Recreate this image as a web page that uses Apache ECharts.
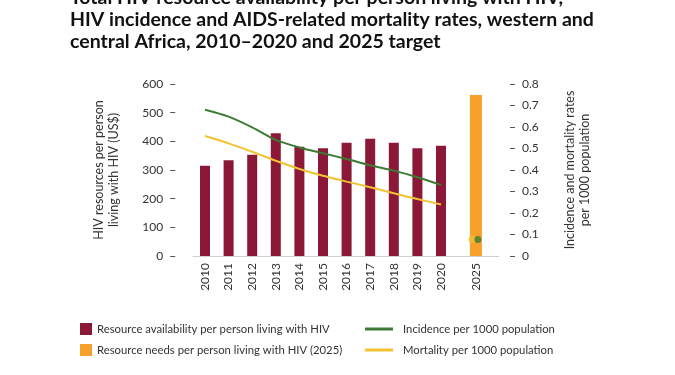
<!DOCTYPE html>
<html>
<head>
<meta charset="utf-8">
<script src="https://cdn.jsdelivr.net/npm/echarts@6/dist/echarts.min.js"></script>
<style>
  html, body { margin: 0; padding: 0; background: #fff; }
  #charts { width: 675px; height: 375px; }
</style>
</head>
<body>
<div id="charts"></div>
<script>
// years 2010-2020
var years = ['2010', '2011', '2012', '2013', '2014', '2015', '2016', '2017', '2018', '2019', '2020'];
// resource availability per person living with HIV (US$)
var resourceAvail = [315, 334, 353, 428, 381, 376, 395, 409, 395, 376, 385];
// incidence / mortality per 1000 population
var incidence = [0.68, 0.648, 0.598, 0.54, 0.505, 0.478, 0.451, 0.422, 0.397, 0.366, 0.33];
var mortality = [0.558, 0.524, 0.485, 0.443, 0.405, 0.373, 0.346, 0.32, 0.292, 0.265, 0.24];
// 2025 target
var targetYear = ['2025'];
var resourceNeeds = [562];
var incidenceTarget = [0.077];
var mortalityTarget = [0.077];

var leftTicks = [0, 100, 200, 300, 400, 500, 600];
var rightTicks = [0, 0.1, 0.2, 0.3, 0.4, 0.5, 0.6, 0.7, 0.8];

var FONT = 'Lato';
var TXT = '#333';
var MAROON = '#8c1838';
var ORANGE = '#f7a02b';
var GREEN = '#3d7a35';
var YELLOW = '#f2c230';

var chart = echarts.init(document.getElementById('charts'));

chart.setOption({
    animation: false,
    textStyle: { fontFamily: FONT },
    title: {
        text: 'Total HIV resource availability per person living with HIV,\nHIV incidence and AIDS-related mortality rates, western and\ncentral Africa, 2010\u20132020 and 2025 target',
        left: 70,
        top: -13,
        padding: 0,
        textStyle: { fontFamily: FONT, fontSize: 19.5, fontWeight: 'bold', color: '#111', lineHeight: 22 }
    },
    legend: [{
        left: 80, top: 322, orient: 'vertical', padding: 0,
        itemWidth: 12, itemHeight: 12, itemGap: 7, icon: 'rect',
        textStyle: { fontFamily: FONT, fontSize: 11.3, color: TXT, lineHeight: 14 },
        data: ['Resource availability per person living with HIV', 'Resource needs per person living with HIV (2025)']
    }, {
        left: 365, top: 322, orient: 'vertical', padding: 0,
        itemWidth: 28, itemHeight: 3, itemGap: 7, icon: 'rect',
        textStyle: { fontFamily: FONT, fontSize: 11.3, color: TXT, lineHeight: 14, padding: [0, 0, 0, 5] },
        data: ['Incidence per 1000 population', 'Mortality per 1000 population']
    }],
    grid: [
        { left: 193.2, width: 259.6, top: 84, bottom: 119 },
        { left: 452.8, right: 176, top: 84, bottom: 119 }
    ],
    xAxis: [{
        gridIndex: 0, type: 'category', data: years,
        axisLine: { lineStyle: { color: '#d0d0d0' } },
        axisTick: { show: false },
        axisLabel: { rotate: 90, margin: 7, fontSize: 12, color: TXT, fontFamily: FONT }
    }, {
        gridIndex: 1, type: 'category', data: targetYear,
        axisLine: { lineStyle: { color: '#d0d0d0' } },
        axisTick: { show: false },
        axisLabel: { rotate: 90, margin: 7, fontSize: 12, color: TXT, fontFamily: FONT }
    }],
    yAxis: [{
        gridIndex: 0, type: 'value', position: 'left', offset: 18,
        min: leftTicks[0], max: leftTicks[leftTicks.length - 1], interval: 100,
        name: 'HIV resources per person\nliving with HIV (US$)',
        nameLocation: 'middle', nameGap: 54,
        nameTextStyle: { fontFamily: FONT, fontSize: 12.5, color: TXT, lineHeight: 15 },
        axisLine: { show: false },
        axisTick: { show: true, length: 5, lineStyle: { color: '#555' } },
        axisLabel: { margin: 12, fontSize: 12, color: TXT, fontFamily: FONT },
        splitLine: { show: false }
    }, {
        gridIndex: 0, type: 'value', position: 'right',
        min: rightTicks[0], max: rightTicks[rightTicks.length - 1],
        show: false
    }, {
        gridIndex: 1, type: 'value', position: 'left',
        min: leftTicks[0], max: leftTicks[leftTicks.length - 1],
        show: false
    }, {
        gridIndex: 1, type: 'value', position: 'right', offset: 11,
        min: rightTicks[0], max: rightTicks[rightTicks.length - 1], interval: 0.1,
        name: 'Incidence and mortality rates\nper 1000 population',
        nameLocation: 'middle', nameGap: 52,
        nameTextStyle: { fontFamily: FONT, fontSize: 12.5, color: TXT, lineHeight: 15 },
        axisLine: { show: false },
        axisTick: { show: true, length: 5, lineStyle: { color: '#555' } },
        axisLabel: { margin: 12, fontSize: 12, color: TXT, fontFamily: FONT },
        splitLine: { show: false }
    }],
    series: [{
        name: 'Resource availability per person living with HIV',
        type: 'bar', xAxisIndex: 0, yAxisIndex: 0,
        barWidth: 10,
        itemStyle: { color: MAROON },
        data: resourceAvail
    }, {
        name: 'Resource needs per person living with HIV (2025)',
        type: 'bar', xAxisIndex: 1, yAxisIndex: 2,
        barWidth: 12,
        itemStyle: { color: ORANGE },
        data: resourceNeeds
    }, {
        name: 'Incidence per 1000 population',
        type: 'line', xAxisIndex: 0, yAxisIndex: 1,
        smooth: 0.3, symbol: 'none',
        lineStyle: { color: GREEN, width: 2 },
        itemStyle: { color: GREEN },
        data: incidence
    }, {
        name: 'Mortality per 1000 population',
        type: 'line', xAxisIndex: 0, yAxisIndex: 1,
        smooth: 0.3, symbol: 'none',
        lineStyle: { color: YELLOW, width: 2 },
        itemStyle: { color: YELLOW },
        data: mortality
    }, {
        name: 'Mortality per 1000 population',
        type: 'scatter', xAxisIndex: 1, yAxisIndex: 3,
        symbolSize: 7, symbolOffset: [-4, 0],
        itemStyle: { color: YELLOW },
        data: mortalityTarget
    }, {
        name: 'Incidence per 1000 population',
        type: 'scatter', xAxisIndex: 1, yAxisIndex: 3,
        symbolSize: 7, symbolOffset: [2, 0],
        itemStyle: { color: GREEN },
        data: incidenceTarget
    }]
});
</script>
</body>
</html>
